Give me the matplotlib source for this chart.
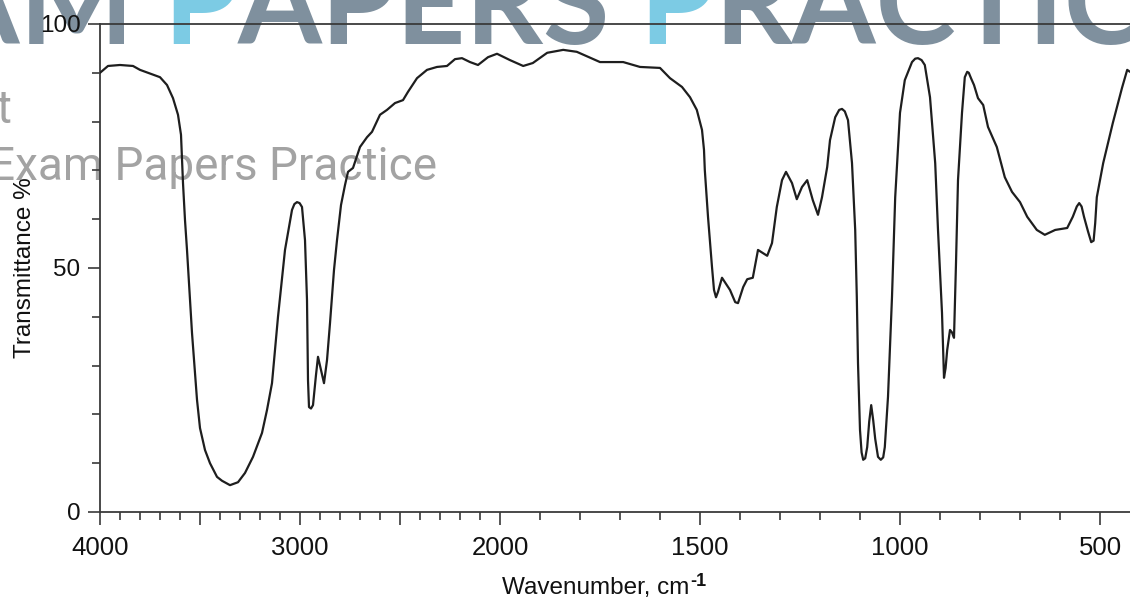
import numpy as np
import matplotlib.pyplot as plt
from matplotlib.ticker import FixedLocator, FixedFormatter

# IR spectrum, read as (wavenumber / cm-1, transmittance / %)
wavenumber = [
    4000, 3960, 3900, 3835, 3800, 3760, 3700, 3665, 3635, 3610,
    3595, 3585, 3575, 3565, 3550, 3540, 3515, 3500, 3475, 3450,
    3415, 3390, 3350, 3310, 3275, 3235, 3190, 3165, 3140, 3110,
    3075, 3040, 3028, 3015, 3002, 2990, 2975, 2965, 2960, 2955,
    2945, 2935, 2920, 2910, 2895, 2880, 2865, 2850, 2830, 2815,
    2795, 2775, 2760, 2735, 2700, 2665, 2640, 2600, 2565, 2525,
    2485, 2460, 2415, 2365, 2315, 2265, 2225, 2190, 2150, 2110,
    2060, 2015, 1975, 1942, 1918, 1882, 1842, 1808, 1750, 1692,
    1650, 1600, 1575, 1545, 1525, 1508, 1495, 1490, 1488, 1480,
    1470, 1465, 1460, 1455, 1445, 1425, 1412, 1405, 1392, 1382,
    1368, 1355, 1332, 1320, 1308, 1295, 1285, 1270, 1258, 1245,
    1232, 1218, 1205, 1195, 1182, 1175, 1162, 1152, 1145, 1138,
    1130, 1120, 1112, 1108, 1105, 1100, 1096, 1092, 1087, 1082,
    1077, 1072, 1067, 1062, 1055, 1048, 1042, 1038, 1030, 1020,
    1012, 1000, 988, 970, 962, 955, 946, 938, 925, 912,
    905, 895, 890, 886, 882, 875, 870, 865, 860, 855,
    845, 838, 832, 828, 822, 815, 805, 792, 780, 758,
    738, 720, 700, 682, 658, 638, 612, 582, 568, 558,
    552, 546, 540, 530, 522, 516, 512, 508, 492, 468,
    445, 432, 425,
]
transmittance = [
    90.0, 91.4, 91.6, 91.4, 90.6, 90.0, 89.1, 87.5, 84.8, 81.4,
    77.3, 67.4, 59.8, 53.7, 43.4, 36.7, 23.0, 17.2, 12.7, 10.0,
    7.2, 6.4, 5.5, 6.1, 8.0, 11.3, 16.2, 20.9, 26.4, 40.0,
    53.7, 61.9, 63.1, 63.5, 63.3, 62.5, 55.7, 43.4, 27.0, 21.5,
    21.2, 21.9, 28.1, 31.8, 29.1, 26.4, 31.1, 38.7, 49.6, 55.7,
    62.9, 67.0, 69.7, 70.5, 74.8, 76.8, 77.9, 81.4, 82.4, 83.8,
    84.4, 86.1, 88.9, 90.6, 91.2, 91.4, 92.8, 93.0, 92.2, 91.6,
    93.2, 93.9, 92.6, 91.4, 92.0, 94.1, 94.7, 94.3, 92.2, 92.2,
    91.2, 91.0, 88.9, 87.1, 85.0, 82.4, 78.3, 74.2, 70.1, 60.5,
    50.2, 45.5, 44.0, 45.1, 48.0, 45.5, 43.0, 42.8, 46.1, 47.7,
    48.0, 53.7, 52.5, 55.1, 62.5, 68.0, 69.7, 67.4, 64.1, 66.6,
    68.0, 63.9, 60.9, 64.5, 70.7, 76.2, 80.9, 82.4, 82.6, 82.1,
    80.3, 71.5, 57.8, 44.1, 30.5, 16.8, 12.2, 10.7, 11.0, 13.3,
    18.5, 21.9, 18.8, 15.0, 11.3, 10.7, 11.2, 13.3, 23.6, 44.1,
    64.5, 81.8, 88.5, 92.2, 92.9, 93.0, 92.6, 91.6, 85.0, 71.5,
    57.8, 40.8, 27.5, 29.5, 33.2, 37.3, 36.8, 35.7, 51.0, 68.0,
    81.8, 89.1, 90.2, 90.0, 88.8, 87.5, 84.8, 83.4, 78.9, 74.8,
    68.6, 65.6, 63.5, 60.5, 57.8, 56.8, 57.8, 58.2, 60.5, 62.6,
    63.3, 62.6, 60.5, 57.5, 55.3, 55.6, 59.2, 64.5, 71.5, 79.7,
    86.9, 90.6, 90.2,
]

x_major = [4000, 3500, 3000, 2500, 2000, 1500, 1000, 500]
x_labels = ["4000", "", "3000", "", "2000", "1500", "1000", "500"]
x_minor = list(range(4000, 499, -100))
y_major = [0, 50, 100]
y_minor = list(range(0, 101, 10))


# the chart uses twice the spacing per cm-1 below 2000
def forward(w):
    w = np.asarray(w, dtype=float)
    return np.where(w >= 2000, w, 2 * w - 2000)


def inverse(u):
    u = np.asarray(u, dtype=float)
    return np.where(u >= 2000, u, (u + 2000) / 2)


plt.rcParams["font.family"] = ["Liberation Sans", "DejaVu Sans"]

W, H = 1130, 603
fig = plt.figure(figsize=(W / 100, H / 100), dpi=100)
ax = fig.add_axes([100 / W, (H - 512) / H, 1030 / W, 488 / H])
ax.patch.set_alpha(0)

# watermark behind the plot
wm_gray = "#7f909e"
wm_blue = "#7ccbe4"
wm_size = 87
wm_kw = dict(fontsize=wm_size, fontweight="bold", family="Lato", zorder=0,
             va="bottom", annotation_clip=False)
anchor = ax.text(163 / W, 1 - 64 / H, "P", transform=fig.transFigure,
                 color=wm_blue, fontsize=wm_size, fontweight="bold", family="Lato",
                 va="bottom", ha="left", zorder=0, clip_on=False)
ax.annotate("EXAM ", xy=(0, 0), xycoords=anchor, ha="right", color=wm_gray, **wm_kw)
prev = ax.annotate("APERS ", xy=(1, 0), xycoords=anchor, ha="left", color=wm_gray, **wm_kw)
prev = ax.annotate("P", xy=(1, 0), xycoords=prev, ha="left", color=wm_blue, **wm_kw)
ax.annotate("RACTICE", xy=(1, 0), xycoords=prev, ha="left", color=wm_gray, **wm_kw)

ax.text(437 / W, 1 - 180 / H, "Exam Papers Practice", transform=fig.transFigure,
        family="Roboto", fontsize=33, color="#a3a3a3", ha="right", va="baseline",
        zorder=0, clip_on=False)
ax.text(12 / W, 1 - 123 / H, "Copyright", transform=fig.transFigure,
        family="Roboto", fontsize=33, color="#a3a3a3", ha="right", va="baseline",
        zorder=0, clip_on=False)

ax.plot(wavenumber, transmittance, color="#1e1e1e", lw=1.6,
        solid_joinstyle="round", solid_capstyle="round", zorder=3)

ax.set_xscale("function", functions=(forward, inverse))
ax.set_xlim(4000, 425)
ax.set_ylim(0, 100)

ax.xaxis.set_major_locator(FixedLocator(x_major))
ax.xaxis.set_major_formatter(FixedFormatter(x_labels))
ax.xaxis.set_minor_locator(FixedLocator(x_minor))
ax.yaxis.set_major_locator(FixedLocator(y_major))
ax.yaxis.set_minor_locator(FixedLocator(y_minor))

spine_color = "#3a3a3a"
for side in ["left", "top", "bottom"]:
    ax.spines[side].set_linewidth(1.3)
    ax.spines[side].set_color(spine_color)
ax.spines["right"].set_visible(False)

ax.tick_params(axis="both", which="both", direction="out", color=spine_color,
               width=1.2, labelcolor="#111111")
ax.tick_params(axis="both", which="major", length=9)
ax.tick_params(axis="both", which="minor", length=5.8)
ax.tick_params(axis="x", which="major", labelsize=18.5, pad=8)
ax.tick_params(axis="y", which="major", labelsize=17.5, pad=5)

ax.set_xlabel("Wavenumber, cm", fontsize=17.5, color="#111111")
ax.xaxis.set_label_coords((596 - 100) / 1030, -(588 - 512) / 488)
ax.xaxis.label.set_va("center")
ax.annotate("-1", xy=(1, 1), xycoords=ax.xaxis.label, xytext=(0.5, 3),
            textcoords="offset points", ha="left", va="top",
            fontsize=13, fontweight="bold", color="#111111")

ax.set_ylabel("Transmittance %", fontsize=17.5, color="#111111")
ax.yaxis.set_label_coords(-(100 - 25) / 1030, 0.5)
ax.yaxis.label.set_va("center")

fig.savefig("out.png", dpi=100)
